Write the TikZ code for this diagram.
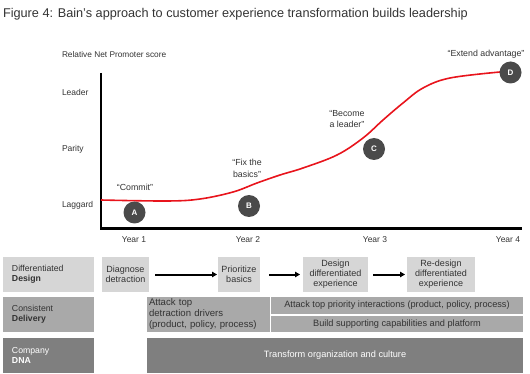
\documentclass[tikz,border=0pt]{standalone}
\usepackage{fontspec}
\setmainfont{Liberation Sans}
\usetikzlibrary{arrows.meta}
\definecolor{txt}{HTML}{333333}
\definecolor{lightg}{HTML}{D6D6D6}
\definecolor{midg}{HTML}{A9A9A9}
\definecolor{darkg}{HTML}{7F7F7F}
\definecolor{circ}{HTML}{4A4A4A}
\definecolor{curve}{HTML}{E8141C}
\begin{document}
\begin{tikzpicture}[x=1pt,y=-1pt,
  every node/.style={inner sep=0pt,outer sep=0pt,text=txt},
  ylab/.style={anchor=west,font=\fontsize{8.5}{10}\selectfont},
  yearlab/.style={font=\fontsize{8.5}{10}\selectfont},
  quote/.style={align=center,font=\fontsize{8.8}{11.5}\selectfont},
  stage/.style={circle,fill=circ,minimum size=22pt,text=white,font=\fontsize{8}{9}\selectfont\bfseries},
  box/.style={minimum height=35pt,font=\fontsize{9}{10}\selectfont,align=center},
  rowhead/.style={box,minimum width=91pt,text width=73pt,align=left,inner xsep=9pt,font=\fontsize{8.7}{10}\selectfont},
  flow/.style={draw=black,line width=2pt,-{Triangle[length=5pt,width=5.5pt]}},
  axis/.style={draw=black,line width=2.7pt}
]
\useasboundingbox (0,0) rectangle (530,374);
% title
\node[anchor=west,font=\fontsize{12.7}{14}\selectfont] (title) at (3,14) {Figure 4: Bain’s approach to customer experience transformation builds leadership};
% axes
\coordinate (ytop) at (101,73);
\coordinate (orig) at (101,228.5);
\coordinate (xend) at (522,228.5);
\draw[axis] (ytop) -- (orig) -- (xend);
\node[anchor=west,font=\fontsize{8.3}{9}\selectfont] (ytitle) at (62,55) {Relative Net Promoter score};
\node[ylab] (leader) at (62,92) {Leader};
\node[ylab] (parity) at (62,149) {Parity};
\node[ylab] (laggard) at (62,205) {Laggard};
\node[yearlab] (y1) at (134,240) {Year 1};
\node[yearlab] (y2) at (248,240) {Year 2};
\node[yearlab] (y3) at (375,240) {Year 3};
\node[yearlab] (y4) at (508,240) {Year 4};
% curve
\draw[curve,line width=1.6pt] plot[smooth,tension=0.6] coordinates {(101,200) (167,201) (200,199) (233,192) (257,183) (280,175) (303,168) (337,155) (363,138) (383,120) (403,103) (423,88) (450,78) (500,72)};
% stages
\node[stage] (A) at (134.5,212.5) {A};
\node[stage] (B) at (249,206) {B};
\node[stage] (C) at (374,149) {C};
\node[stage] (D) at (510.5,72.5) {D};
\node[quote] (qA) at (135,187) {“Commit”};
\node[quote] (qB) at (247,168.5) {“Fix the\\basics”};
\node[quote] (qC) at (347,119) {“Become\\a leader”};
\node[quote] (qD) at (486,54) {“Extend advantage”};
% rows
\node[rowhead,fill=lightg] (r1) at (48.5,274.5) {Differentiated\\\textbf{Design}};
\node[rowhead,fill=midg] (r2) at (48.5,314.5) {Consistent\\\textbf{Delivery}};
\node[rowhead,fill=darkg,text=white] (r3) at (48.5,355.5) {Company\\\textbf{DNA}};
% design row
\node[box,fill=lightg,minimum width=47pt] (diag) at (125.5,274.5) {Diagnose\\detraction};
\node[box,fill=lightg,minimum width=42pt] (prio) at (239,274.5) {Prioritize\\basics};
\node[box,fill=lightg,minimum width=65pt] (des) at (335.5,274.5) {Design\\differentiated\\experience};
\node[box,fill=lightg,minimum width=68pt] (redes) at (441,274.5) {Re-design\\differentiated\\experience};
\draw[flow] ([xshift=6pt]diag.east) -- ([xshift=-1pt]prio.west);
\draw[flow] ([xshift=9pt]prio.east) -- ([xshift=-3pt]des.west);
\draw[flow] ([xshift=5pt]des.east) -- ([xshift=-2pt]redes.west);
% delivery row
\node[box,fill=midg,minimum width=122pt,text width=118pt,align=left,inner xsep=2.5pt,font=\fontsize{9.6}{11}\selectfont] (att) at (208,314.5) {Attack top\\detraction drivers\\(product, policy, process)};
\node[box,fill=midg,minimum width=252pt,minimum height=17pt,font=\fontsize{9.2}{10}\selectfont] (attp) at (397,305.5) {Attack top priority interactions (product, policy, process)};
\node[box,fill=midg,minimum width=252pt,minimum height=16pt,font=\fontsize{9.2}{10}\selectfont] (build) at (397,324) {Build supporting capabilities and platform};
% dna row
\node[box,fill=darkg,minimum width=376pt,text=white,font=\fontsize{9.2}{10}\selectfont] (trans) at (335,355.5) {Transform organization and culture};
\end{tikzpicture}
\end{document}
